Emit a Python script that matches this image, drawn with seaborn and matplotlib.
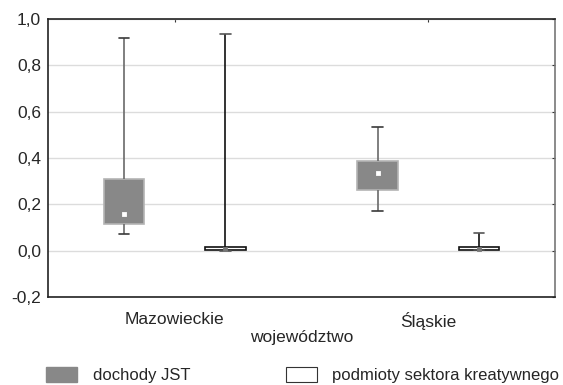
import numpy as np
import pandas as pd
import seaborn as sns
import matplotlib
matplotlib.use("Agg")
import matplotlib.pyplot as plt
from matplotlib.patches import Patch
from matplotlib.ticker import FuncFormatter, MultipleLocator

# Categories and series
regions = ["Mazowieckie", "Śląskie"]
series = ["dochody JST", "podmioty sektora kreatywnego"]

# Five-number summaries per box: min, Q1, median, Q3, max
jst_mazowieckie = [0.074, 0.115, 0.158, 0.311, 0.920]
jst_slaskie = [0.171, 0.260, 0.334, 0.389, 0.535]
kreat_mazowieckie = [-0.002, 0.002, 0.006, 0.014, 0.934]
kreat_slaskie = [0.004, 0.005, 0.008, 0.016, 0.075]

summaries = {
    (regions[0], series[0]): jst_mazowieckie,
    (regions[1], series[0]): jst_slaskie,
    (regions[0], series[1]): kreat_mazowieckie,
    (regions[1], series[1]): kreat_slaskie,
}
rows = []
for (reg, ser), vals in summaries.items():
    for v in vals:
        rows.append({"województwo": reg, "seria": ser, "wartość": v})
df = pd.DataFrame(rows)

sns.set_style("white")
fsize = 12.5
lsize = 12
plt.rcParams["font.family"] = ["Liberation Sans", "DejaVu Sans"]
plt.rcParams["font.size"] = fsize

fig = plt.figure(figsize=(5.63, 3.85), dpi=100)
ax = fig.add_axes([48 / 563, 1 - 297 / 385, (555 - 48) / 563, (297 - 19) / 385])

fill = {series[0]: "#888888", series[1]: "#ffffff"}
sns.boxplot(
    data=df, x="województwo", y="wartość", hue="seria",
    order=regions, hue_order=series,
    whis=(0, 100), width=0.8, gap=0.6, palette=fill,
    fliersize=0, linewidth=1.0, legend=False, ax=ax,
)

# per-series line colours; caps half as wide as the boxes
edge = {series[0]: "#b4b4b4", series[1]: "#111111"}
whisk = {series[0]: "#6a6a6a", series[1]: "#111111"}
caps = {series[0]: "#3a3a3a", series[1]: "#555555"}
for cont, ser in zip(ax.containers, series):
    for b in cont.boxes:
        b.set_edgecolor(edge[ser])
        b.set_linewidth(1.2)
    for w in cont.whiskers:
        w.set_color(whisk[ser])
        w.set_linewidth(1.2)
    for c in cont.caps:
        c.set_color(caps[ser])
        c.set_linewidth(1.2)
        xd = np.asarray(c.get_xdata(), dtype=float)
        mid = xd.mean()
        c.set_xdata(mid + (xd - mid) * 0.5)
    for m in cont.medians:
        m.set_visible(False)

# medians drawn as small square markers
med_colors = {series[0]: "#ffffff", series[1]: "#777777"}
sns.pointplot(
    data=df, x="województwo", y="wartość", hue="seria",
    order=regions, hue_order=series,
    estimator="median", errorbar=None, dodge=0.4,
    linestyle="none", markers="s", markersize=2,
    palette=med_colors, legend=False, ax=ax,
)
for ln in ax.lines[-6:]:
    ln.set_zorder(6)

ax.set_ylim(-0.2, 1.0)
ax.set_xlim(-0.5, 1.5)
ax.yaxis.set_major_locator(MultipleLocator(0.2))
ax.yaxis.set_major_formatter(
    FuncFormatter(lambda v, p: f"{v:.1f}".replace(".", ",").replace("-0,0", "0,0"))
)
ax.grid(axis="y", color="#dcdcdc", linewidth=1.0)
ax.set_axisbelow(True)

ax.tick_params(axis="x", direction="in", length=2, top=True, pad=11,
               labelsize=fsize, color="#333333")
ax.tick_params(axis="y", direction="in", length=2, right=True, pad=5,
               labelsize=fsize, color="#333333")
for side in ["left", "bottom", "top"]:
    ax.spines[side].set_color("#222222")
    ax.spines[side].set_linewidth(1.2)
ax.spines["right"].set_color("#777777")
ax.spines["right"].set_linewidth(1.2)

ax.set_ylabel("")
ax.set_xlabel("województwo", fontsize=fsize, labelpad=-0.5)

px = lsize * 100 / 72
handles = [
    Patch(facecolor="#888888", edgecolor="#888888", label=series[0]),
    Patch(facecolor="#ffffff", edgecolor="#333333", linewidth=0.8, label=series[1]),
]
fig.legend(
    handles=handles, loc="center left", bbox_to_anchor=(46 / 563, 10 / 385),
    ncol=2, frameon=False, fontsize=lsize, borderpad=0, borderaxespad=0,
    handlelength=31 / px, handleheight=16 / px,
    handletextpad=16 / px, columnspacing=95 / px,
)

fig.savefig("out.png", dpi=100)
